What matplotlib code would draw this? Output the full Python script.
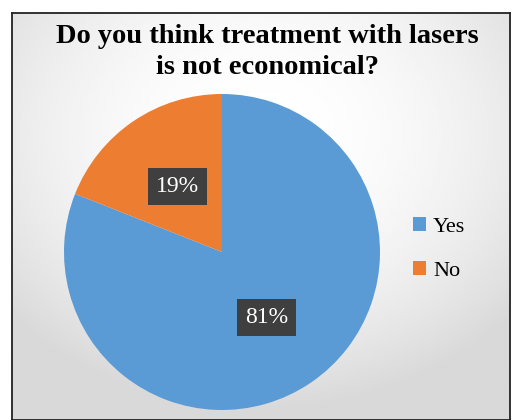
import numpy as np
import matplotlib.pyplot as plt

plt.rcParams["font.family"] = ["Liberation Serif", "DejaVu Serif"]

labels = ["Yes", "No"]
shares = [81, 19]
colors = ["#5b9bd5", "#ed7d31"]
title = "Do you think treatment with lasers\nis not economical?"

fig = plt.figure(figsize=(5.12, 4.2), dpi=100)
fig.patch.set_facecolor("white")

# background panel with a soft gradient
bg = fig.add_axes([12 / 512, 0, 498 / 512, 407 / 420])
yy, xx = np.mgrid[0:1:200j, 0:1:200j]
grad = 1 - 0.15 * np.clip(((xx - 0.5) ** 2 + (yy - 0.3) ** 2) * 2.2, 0, 1)
bg.imshow(grad, cmap="gray", vmin=0, vmax=1, extent=[0, 1, 0, 1], aspect="auto")
bg.set_xticks([])
bg.set_yticks([])
for sp in bg.spines.values():
    sp.set_color("#222222")
    sp.set_linewidth(1.3)

fig.text(267 / 512, 1 - 52 / 420, title, ha="center", va="center",
         fontsize=20.5, fontweight="bold", linespacing=1.35)

r = 158
ax = fig.add_axes([(222 - r) / 512, 1 - (252 + r) / 420, 2 * r / 512, 2 * r / 420])
wedges, _, autotexts = ax.pie(shares, colors=colors, startangle=90, counterclock=False,
                              autopct="%d%%", pctdistance=0.5,
                              wedgeprops=dict(linewidth=0))
for t in autotexts:
    t.set_color("white")
    t.set_fontsize(17)
    t.set_bbox(dict(boxstyle="square,pad=0.35", fc="#3f3f3f", ec="none"))
ax.set_xlim(-1, 1)
ax.set_ylim(-1, 1)
ax.set_aspect("equal")

fig.legend(wedges, labels, loc="center left", bbox_to_anchor=(393 / 512, 1 - 249 / 420),
           frameon=False, fontsize=16, handlelength=0.6, handleheight=0.6,
           handletextpad=0.3, labelspacing=1.1)

fig.savefig("out.png", dpi=100, facecolor=fig.get_facecolor())
